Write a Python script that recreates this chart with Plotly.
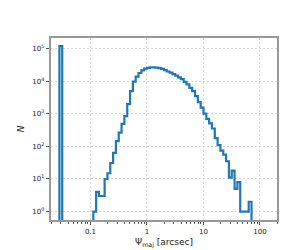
import numpy as np
import plotly.graph_objects as go

# Histogram binning (log-spaced bins, in dex)
LOG_EDGE_START = -1.55
BIN_WIDTH_DEX = 0.05
N_BINS = 68

# Counts per bin
counts = [
    120000, 0, 0, 0, 0, 0, 0, 0, 0, 0, 0, 0,
    1, 4, 3, 3, 10, 15, 31, 63, 145, 267, 490, 850,
    2000, 5000, 9800, 14000, 18000, 21800, 24500, 26000, 26800, 26800,
    26300, 25500, 24000, 22000, 20000, 18500, 16600, 15000, 13200, 11700,
    9600, 8000, 6300, 5000, 3500, 2300, 1550, 1020, 700, 510,
    355, 180, 110, 74, 56, 35, 11, 18, 5, 8,
    1, 1, 1, 2,
]

x_tickvals = [0.1, 1, 10, 100]
x_ticktext = ["0.1", "1", "10", "100"]
x_minor_tickvals = ([m * 0.01 for m in range(2, 10)] + [m * 0.1 for m in range(2, 10)]
                    + [m * 1.0 for m in range(2, 10)] + [m * 10.0 for m in range(2, 10)]
                    + [200.0])
y_tickvals = [1, 10, 100, 1000, 10000, 100000]
y_ticktext = ["10<sup>0</sup>", "10<sup>1</sup>", "10<sup>2</sup>",
              "10<sup>3</sup>", "10<sup>4</sup>", "10<sup>5</sup>"]

edges = 10 ** (LOG_EDGE_START + BIN_WIDTH_DEX * np.arange(N_BINS + 1))
FLOOR = 1e-3  # empty bins fall below the visible log range
vals = [c if c > 0 else FLOOR for c in counts]

xs = [edges[0]] + list(edges[:N_BINS]) + [edges[N_BINS]]
ys = [FLOOR] + vals + [FLOOR]

fig = go.Figure()
fig.add_trace(go.Scatter(
    x=xs, y=ys, mode="lines", line_shape="hv",
    line=dict(color="#1f77b4", width=2.2),
    showlegend=False, hoverinfo="skip",
))

axis_common = dict(
    type="log", showline=True, mirror=True, linecolor="#999999", linewidth=1.5,
    ticks="outside", ticklen=3.5, tickcolor="#555555", tickwidth=1,
    showgrid=True, gridcolor="#d9d9d9", griddash="2px,2px", gridwidth=0.8,
    zeroline=False,
    tickfont=dict(family="DejaVu Sans", size=7, color="#222222"),
)

fig.update_xaxes(
    **axis_common,
    range=[np.log10(0.02), np.log10(200)],
    tickvals=x_tickvals, ticktext=x_ticktext,
    minor=dict(tickmode="array", tickvals=x_minor_tickvals, ticks="outside",
               ticklen=2, tickcolor="#555555", tickwidth=0.8, showgrid=False),
    title=dict(text="Ψ<sub>maj</sub> [arcsec]", standoff=4,
               font=dict(family="DejaVu Sans", size=9, color="#222222")),
)
fig.update_yaxes(
    **axis_common,
    range=[-0.26, 5.33],
    tickvals=y_tickvals, ticktext=y_ticktext,
    title=dict(text="<i>N</i>", standoff=6,
               font=dict(family="DejaVu Sans", size=9, color="#222222")),
)

fig.update_layout(
    width=299, height=250,
    margin=dict(l=37, r=30, t=30, b=27),
    paper_bgcolor="white", plot_bgcolor="white",
)

fig.write_html("out.html")
